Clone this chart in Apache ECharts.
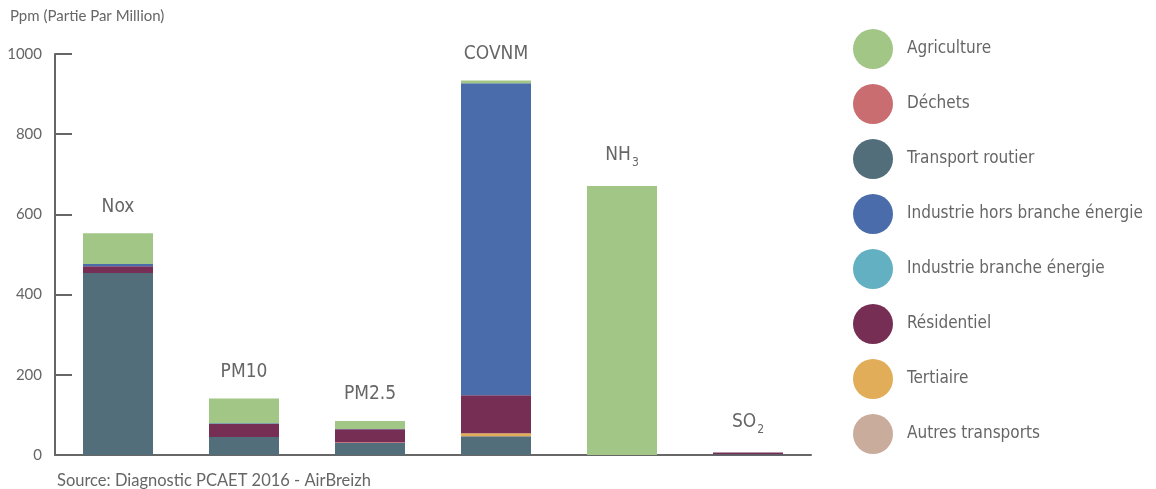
<!DOCTYPE html>
<html>
<head>
<meta charset="utf-8">
<script src="https://cdn.jsdelivr.net/npm/echarts@6/dist/echarts.min.js"></script>
<style>
  html, body { margin: 0; padding: 0; background: #fff; }
  #chart { width: 1156px; height: 489px; }
</style>
</head>
<body>
<div id="chart"></div>
<script>
// polluants (catégories)
var categories = ["Nox", "PM10", "PM2.5", "COVNM", "NH3", "SO2"];
var categoryLabels = ["Nox", "PM10", "PM2.5", "COVNM", "NH{sub|3}", "SO{sub|2}"];

// emissions par secteur, en ppm
var transportRoutier = [454, 45, 30, 47, 0, 2];
var dechets = [0, 0, 2, 0, 0, 0];
var tertiaire = [0, 0, 0, 7, 0, 0];
var residentiel = [17, 32, 32, 95, 0, 4];
var industrieBranche = [0, 0, 0, 0, 0, 0];
var industrieHors = [5, 2, 1, 778, 0, 0];
var autresTransports = [0, 0, 0, 0, 0, 0];
var agriculture = [77, 62, 20, 7, 671, 0];

var yTicks = [0, 200, 400, 600, 800, 1000];

var legendOrder = [
  "Agriculture",
  "Déchets",
  "Transport routier",
  "Industrie hors branche énergie",
  "Industrie branche énergie",
  "Résidentiel",
  "Tertiaire",
  "Autres transports"
];

var colors = {
  "Agriculture": "#a2c686",
  "Déchets": "#c96d70",
  "Transport routier": "#536e7b",
  "Industrie hors branche énergie": "#4a6caa",
  "Industrie branche énergie": "#62b0c2",
  "Résidentiel": "#772e55",
  "Tertiaire": "#e2ad58",
  "Autres transports": "#c9ac9c"
};

// ordre d'empilement (du bas vers le haut)
var stackSeries = [
  ["Transport routier", transportRoutier],
  ["Déchets", dechets],
  ["Autres transports", autresTransports],
  ["Tertiaire", tertiaire],
  ["Résidentiel", residentiel],
  ["Industrie branche énergie", industrieBranche],
  ["Industrie hors branche énergie", industrieHors],
  ["Agriculture", agriculture]
];

var handFont = "'DejaVu Sans Condensed', 'Liberation Sans Narrow', sans-serif";

var series = stackSeries.map(function (s) {
  return {
    name: s[0],
    type: "bar",
    stack: "total",
    barWidth: 70,
    itemStyle: { color: colors[s[0]] },
    data: s[1]
  };
});

// série vide au sommet pour porter le nom du polluant
series.push({
  name: "label",
  type: "bar",
  stack: "total",
  barWidth: 70,
  data: categories.map(function () { return 0; }),
  itemStyle: { color: "transparent" },
  label: {
    show: true,
    position: "top",
    distance: 17,
    formatter: function (p) { return categoryLabels[p.dataIndex]; },
    fontFamily: handFont,
    fontSize: 19,
    color: "#666",
    rich: {
      sub: { fontFamily: handFont, fontSize: 12, color: "#666", verticalAlign: "bottom", padding: [16, 0, 0, 1] }
    }
  }
});

var chart = echarts.init(document.getElementById("chart"));

chart.setOption({
  animation: false,
  color: legendOrder.map(function (n) { return colors[n]; }),
  grid: { left: 55, right: 345, top: 54, bottom: 34 },
  legend: {
    data: legendOrder,
    orient: "vertical",
    left: 853,
    top: 29,
    padding: 0,
    icon: "circle",
    itemWidth: 40,
    itemHeight: 40,
    itemGap: 15,
    selectedMode: false,
    textStyle: { fontFamily: handFont, fontSize: 17, color: "#666", padding: [0, 0, 0, 9] }
  },
  xAxis: {
    type: "category",
    data: categories,
    axisTick: { show: false },
    axisLabel: { show: false },
    axisLine: { lineStyle: { color: "#666", width: 2 } }
  },
  yAxis: {
    type: "value",
    min: yTicks[0],
    max: yTicks[yTicks.length - 1],
    interval: yTicks[1] - yTicks[0],
    splitLine: { show: false },
    axisLine: { show: true, lineStyle: { color: "#666", width: 2 } },
    axisTick: { show: true, inside: true, length: 17, lineStyle: { color: "#666", width: 2 } },
    axisLabel: {
      margin: 13,
      fontFamily: "Lato",
      fontSize: 15,
      color: "#666",
      formatter: function (v) { return String(v); }
    }
  },
  graphic: [
    {
      type: "text",
      left: 10,
      top: 9,
      style: { text: "Ppm (Partie Par Million)", fontFamily: "Lato", fontSize: 15, fill: "#666" }
    },
    {
      type: "text",
      left: 57,
      top: 472,
      style: { text: "Source: Diagnostic PCAET 2016 - AirBreizh", fontFamily: "Lato", fontSize: 16.5, fill: "#666" }
    }
  ],
  series: series
});

window.addEventListener("resize", function () {
  chart.resize();
});
</script>
</body>
</html>
